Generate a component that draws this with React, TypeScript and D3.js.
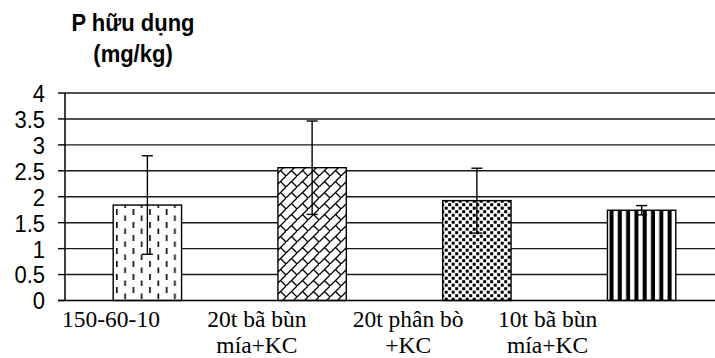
import React, { useEffect, useRef } from "react";
import * as d3 from "d3";

const categories = ["150-60-10", "20t bã bùn mía+KC", "20t phân bò +KC", "10t bã bùn mía+KC"];
const labelLines = [["150-60-10"], ["20t bã bùn", "mía+KC"], ["20t phân bò", "+KC"], ["10t bã bùn", "mía+KC"]];
const values = [1.84, 2.56, 1.925, 1.74];
const errors = [0.95, 0.9, 0.625, 0.09];
const yTicks = [0, 0.5, 1, 1.5, 2, 2.5, 3, 3.5, 4];
const yTickLabels = ["0", "0.5", "1", "1.5", "2", "2.5", "3", "3.5", "4"];
const titleLines = ["P hữu dụng", "(mg/kg)"];
const patternIds = ["pDash", "pBrick", "pDots", "pStripe"];

const W = 715;
const H = 358;

export default function App() {
  const ref = useRef<SVGSVGElement>(null);

  useEffect(() => {
    const svg = d3.select(ref.current);
    svg.selectAll("*").remove();

    const defs = svg.append("defs");
    // dashed vertical
    const p1 = defs.append("pattern").attr("id", "pDash").attr("patternUnits", "userSpaceOnUse")
      .attr("width", 16.6).attr("height", 13).attr("x", 113);
    p1.append("rect").attr("width", 16.6).attr("height", 13).attr("fill", "#fff");
    p1.append("rect").attr("x", 3).attr("y", 1).attr("width", 1.6).attr("height", 6).attr("fill", "#000");
    p1.append("rect").attr("x", 11.3).attr("y", 7.5).attr("width", 1.6).attr("height", 6).attr("fill", "#000");
    // diagonal brick
    const p2 = defs.append("pattern").attr("id", "pBrick").attr("patternUnits", "userSpaceOnUse")
      .attr("width", 11).attr("height", 11);
    p2.append("rect").attr("width", 11).attr("height", 11).attr("fill", "#fff");
    p2.append("path").attr("d", "M-1,12 L12,-1 M5.5,5.5 L11,11")
      .attr("stroke", "#000").attr("stroke-width", 1.3).attr("fill", "none");
    // dots
    const p3 = defs.append("pattern").attr("id", "pDots").attr("patternUnits", "userSpaceOnUse")
      .attr("width", 7).attr("height", 7);
    p3.append("rect").attr("width", 7).attr("height", 7).attr("fill", "#fff");
    p3.append("rect").attr("x", 0.2).attr("y", 0.2).attr("width", 3).attr("height", 3).attr("fill", "#000");
    p3.append("rect").attr("x", 3.7).attr("y", 3.7).attr("width", 3).attr("height", 3).attr("fill", "#000");
    // vertical stripes
    const p4 = defs.append("pattern").attr("id", "pStripe").attr("patternUnits", "userSpaceOnUse")
      .attr("width", 8.3).attr("height", 10).attr("x", 608);
    p4.append("rect").attr("width", 8.3).attr("height", 10).attr("fill", "#fff");
    p4.append("rect").attr("x", 1.5).attr("width", 4).attr("height", 10).attr("fill", "#000");

    svg.append("rect").attr("width", W).attr("height", H).attr("fill", "#fff");

    const x = d3.scaleBand<string>().domain(categories).range([65, 724]).padding(0);
    const y = d3.scaleLinear().domain([0, 4]).range([300.5, 93]);
    const barW = x.bandwidth() * 0.415;

    // gridlines
    svg.append("g").selectAll("line").data(yTicks.filter(t => t > 0)).join("line")
      .attr("x1", 65).attr("x2", W).attr("y1", d => y(d)).attr("y2", d => y(d))
      .attr("stroke", "#1a1a1a").attr("stroke-width", 1.4);

    // y axis
    svg.append("line").attr("x1", 65).attr("x2", 65).attr("y1", y(4)).attr("y2", y(0))
      .attr("stroke", "#000").attr("stroke-width", 1.5);
    svg.append("g").selectAll("line").data(yTicks).join("line")
      .attr("x1", 58).attr("x2", 65).attr("y1", d => y(d)).attr("y2", d => y(d))
      .attr("stroke", "#000").attr("stroke-width", 1.4);
    svg.append("g").selectAll("text").data(yTicks).join("text")
      .attr("transform", d => `translate(45,${y(d)}) scale(1,1.12)`).attr("dy", "0.36em")
      .attr("text-anchor", "end")
      .attr("font-family", "Liberation Sans, Arial, sans-serif").attr("font-size", 22)
      .text((d, i) => yTickLabels[i]);

    // bars
    svg.append("g").selectAll("rect").data(values).join("rect")
      .attr("x", (d, i) => (x(categories[i]) as number) + x.bandwidth() / 2 - barW / 2)
      .attr("y", d => y(d)).attr("width", barW).attr("height", d => y(0) - y(d))
      .attr("fill", (d, i) => `url(#${patternIds[i]})`)
      .attr("stroke", "#000").attr("stroke-width", 1.4);

    // error bars
    const eg = svg.append("g").attr("stroke", "#000").attr("stroke-width", 1.4);
    values.forEach((v, i) => {
      const cx = (x(categories[i]) as number) + x.bandwidth() / 2;
      const t = y(v + errors[i]);
      const b = y(v - errors[i]);
      eg.append("line").attr("x1", cx).attr("x2", cx).attr("y1", t).attr("y2", b);
      eg.append("line").attr("x1", cx - 5.5).attr("x2", cx + 5.5).attr("y1", t).attr("y2", t);
      eg.append("line").attr("x1", cx - 5.5).attr("x2", cx + 5.5).attr("y1", b).attr("y2", b);
    });

    // x axis
    svg.append("line").attr("x1", 58).attr("x2", W).attr("y1", y(0)).attr("y2", y(0))
      .attr("stroke", "#000").attr("stroke-width", 1.5);

    // x labels
    const lx = d3.scaleLinear().domain([0, categories.length - 1]).range([62, 498]);
    labelLines.forEach((lines, i) => {
      const g = svg.append("g");
      const first = g.append("text").attr("x", lx(i)).attr("y", 327)
        .attr("font-family", "Liberation Serif, Times New Roman, serif").attr("font-size", 23.5)
        .text(lines[0]);
      const w = (first.node() as SVGTextElement).getComputedTextLength();
      const cx = lx(i) + w / 2;
      first.attr("x", cx).attr("text-anchor", "middle");
      lines.slice(1).forEach((l, j) => {
        g.append("text").attr("x", cx).attr("y", 327 + 25.5 * (j + 1)).attr("text-anchor", "middle")
          .attr("font-family", "Liberation Serif, Times New Roman, serif").attr("font-size", 23.5)
          .text(l);
      });
    });

    // title
    titleLines.forEach((t, i) => {
      svg.append("text").attr("transform", `translate(133,${31 + 31 * i}) scale(1,1.12)`)
        .attr("text-anchor", "middle")
        .attr("font-family", "Liberation Sans, Arial, sans-serif").attr("font-weight", "bold")
        .attr("font-size", 22).text(t);
    });
  }, []);

  return (
    <svg ref={ref} width={W} height={H}
      style={{ position: "absolute", left: 0, top: 0, display: "block" }} />
  );
}
